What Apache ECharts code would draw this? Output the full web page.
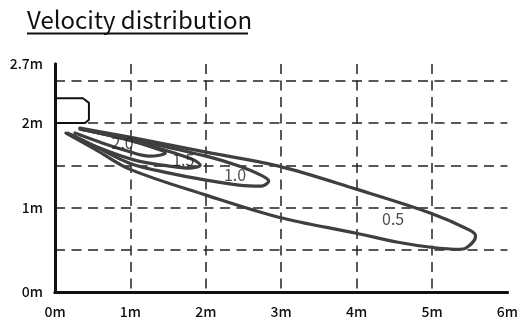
<!DOCTYPE html>
<html>
<head>
<meta charset="utf-8">
<script src="https://cdn.jsdelivr.net/npm/echarts@6/dist/echarts.min.js"></script>
<style>
  html, body { margin: 0; padding: 0; background: #fff; }
  #chart { width: 521px; height: 323px; }
</style>
</head>
<body>
<div id="chart"></div>
<script>
// Axis ranges and tick labels (metres)
const xTickValues = [0, 1, 2, 3, 4, 5, 6];
const xTickLabels = ['0m', '1m', '2m', '3m', '4m', '5m', '6m'];
const yLabelValues = [0, 1, 2, 2.7];
const yLabelTexts = ['0m', '1m', '2m', '2.7m'];

// Outlet unit outline on the wall, [x, y] in metres
const unitOutline = [[0, 2.294], [0.37, 2.294], [0.45, 2.24], [0.45, 2.04], [0.40, 2.0], [0, 2.0]];

// Iso-velocity contours (m/s), each traced from the lower edge, round the tip, back along the upper edge
const contourLevels = ['0.5', '1.0', '1.5', '2.0'];
const contour05 = [[0.145, 1.882], [0.528, 1.692], [0.989, 1.455], [2.004, 1.147], [2.967, 0.886], [3.996, 0.696],
  [4.550, 0.589], [4.985, 0.530], [5.367, 0.506], [5.446, 0.518], [5.578, 0.661], [5.499, 0.732], [4.985, 0.933],
  [3.996, 1.218], [2.967, 1.491], [2.004, 1.656], [0.989, 1.834], [0.330, 1.941]];
const contour10 = [[0.171, 1.882], [0.528, 1.728], [0.989, 1.526], [1.517, 1.408], [2.004, 1.325], [2.440, 1.265],
  [2.730, 1.253], [2.835, 1.313], [2.730, 1.384], [2.440, 1.491], [2.004, 1.609], [0.989, 1.811], [0.330, 1.929]];
const contour15 = [[0.224, 1.858], [0.593, 1.704], [1.055, 1.562], [1.517, 1.491], [1.780, 1.467], [1.925, 1.502],
  [1.846, 1.562], [1.582, 1.645], [0.989, 1.799], [0.343, 1.929]];
const contour20 = [[0.264, 1.882], [0.593, 1.775], [0.923, 1.680], [1.253, 1.609], [1.464, 1.645], [1.319, 1.704],
  [0.923, 1.811], [0.356, 1.929]];
// Where each level's value is written
const levelLabelPos = [[4.484, 0.862], [2.387, 1.384], [1.701, 1.562], [0.897, 1.763]];

const font = '"Noto Sans CJK JP", "Noto Sans", sans-serif';
const lineColor = '#3f3f3f';
const frame = { show: true, lineStyle: { color: '#111', width: 3 } };
const dashed = { show: true, showMinLine: false, showMaxLine: false,
  lineStyle: { color: '#222', width: 1.5, type: [10, 6.5] } };

function contourSeries(data) {
  return {
    type: 'line', data: data, xAxisIndex: 0, yAxisIndex: 0,
    symbol: 'none', smooth: 0.35, silent: true, z: 3,
    lineStyle: { color: lineColor, width: 3.2, cap: 'round', join: 'round' }
  };
}

const chart = echarts.init(document.getElementById('chart'), null, { renderer: 'canvas' });
chart.setOption({
  animation: false,
  backgroundColor: '#fff',
  title: {
    text: 'Velocity distribution', left: 27, top: 8, padding: 0,
    textStyle: { fontFamily: font, fontSize: 24, fontWeight: 'normal', color: '#111' }
  },
  graphic: [{
    type: 'line', shape: { x1: 27, y1: 33.5, x2: 248, y2: 33.5 },
    style: { stroke: '#111', lineWidth: 2 }
  }],
  grid: { left: 55, right: 11, top: 64, bottom: 31, containLabel: false },
  xAxis: [{
    type: 'value', min: 0, max: 6, interval: 1, position: 'bottom',
    axisLine: frame, axisTick: { show: false }, splitLine: dashed,
    axisLabel: { margin: 13, fontFamily: font, fontSize: 14, fontWeight: 500, color: '#111',
      formatter: v => { const i = xTickValues.indexOf(v); return i >= 0 ? xTickLabels[i] : ''; } }
  }, {
    type: 'value', min: 0, max: 6, position: 'top',
    axisLine: frame, axisTick: { show: false }, axisLabel: { show: false }, splitLine: { show: false }
  }],
  yAxis: [{
    type: 'value', min: 0, max: 2.7, interval: 0.5, position: 'left',
    axisLine: frame, axisTick: { show: false }, splitLine: dashed,
    axisLabel: { margin: 12, fontFamily: font, fontSize: 14, fontWeight: 500, color: '#111', showMaxLabel: true, showMinLabel: true,
      formatter: v => { const i = yLabelValues.findIndex(t => Math.abs(t - v) < 1e-6); return i >= 0 ? yLabelTexts[i] : ''; } }
  }, {
    type: 'value', min: 0, max: 2.7, position: 'right',
    axisLine: frame, axisTick: { show: false }, axisLabel: { show: false }, splitLine: { show: false }
  }],
  series: [
    {
      type: 'line', data: unitOutline, symbol: 'none', silent: true, z: 4,
      lineStyle: { color: '#111', width: 2 }
    },
    contourSeries(contour05),
    contourSeries(contour10),
    contourSeries(contour15),
    contourSeries(contour20),
    {
      type: 'scatter', symbolSize: 0, silent: true, z: 5,
      data: levelLabelPos.map((p, i) => ({ value: p, name: contourLevels[i] })),
      label: { show: true, position: 'inside', formatter: p => p.name,
        fontFamily: font, fontSize: 16, color: '#222' }
    }
  ]
});
</script>
</body>
</html>
